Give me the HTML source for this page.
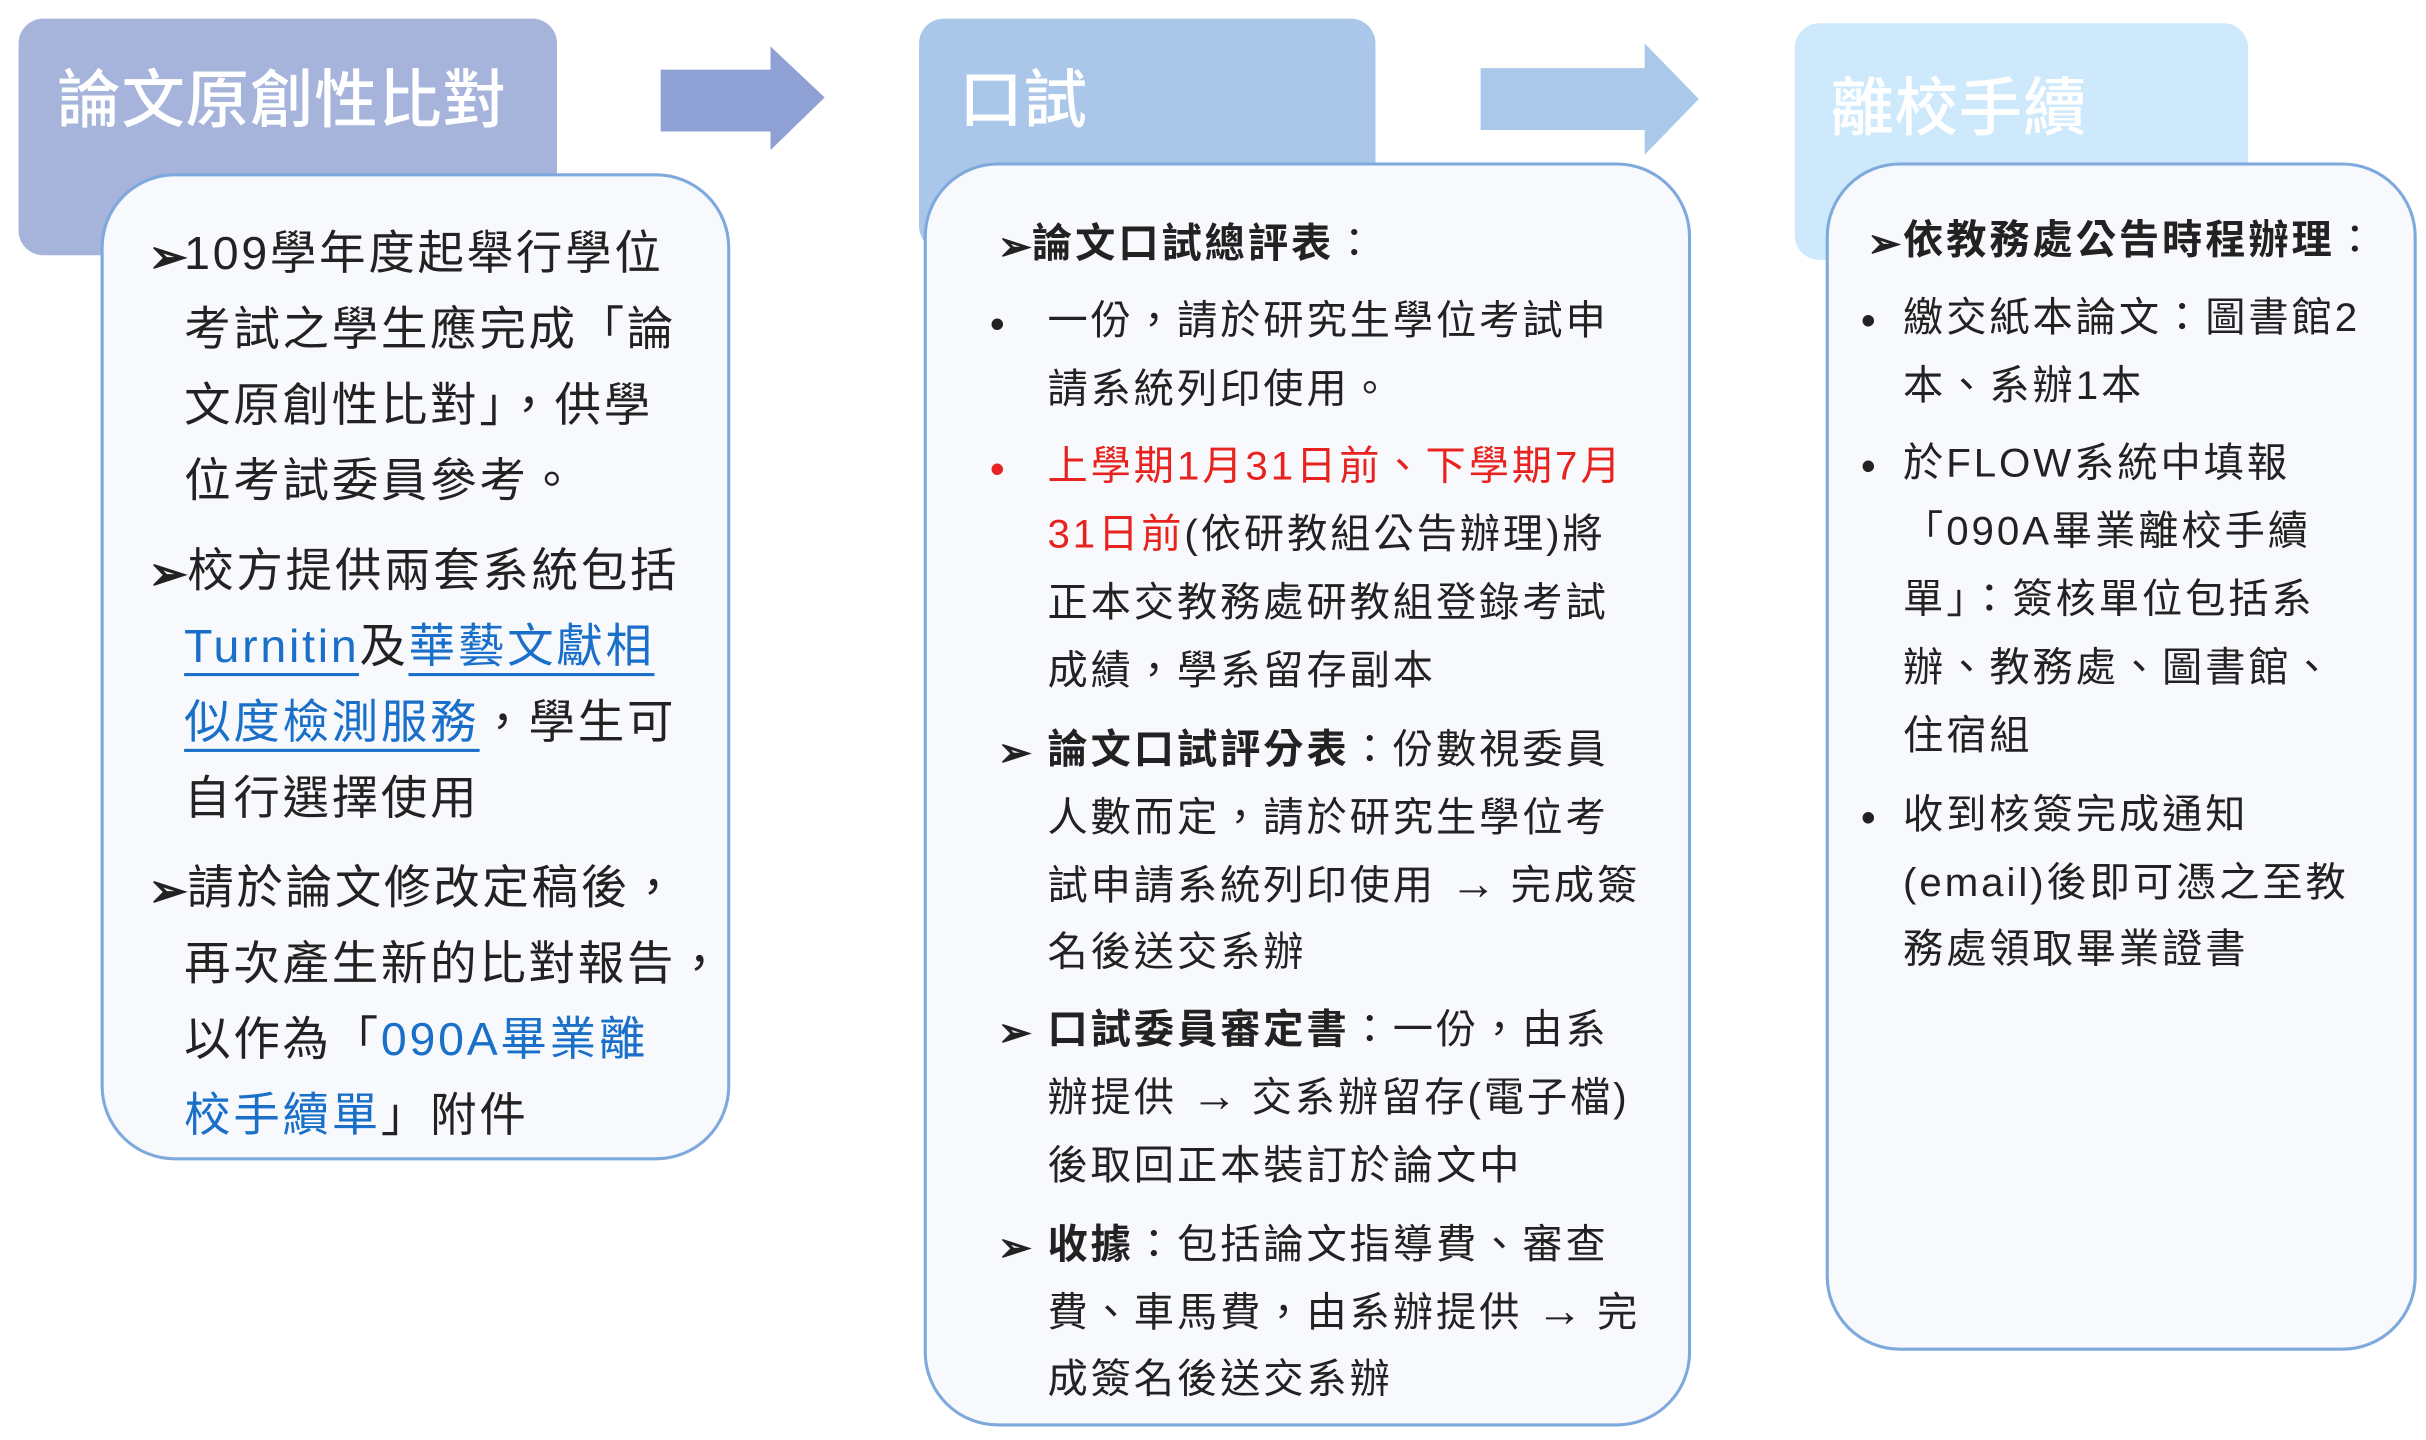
<!DOCTYPE html>
<html><head><meta charset="utf-8">
<style>
html,body{margin:0;padding:0;background:#fff;}
body{width:2426px;height:1440px;overflow:hidden;position:relative;}
#s{position:absolute;left:0;top:0;width:1568px;height:931px;transform:scale(1.5472);transform-origin:0 0;font-family:"Liberation Sans","Noto Sans CJK TC",sans-serif;color:#222;}
.hd{position:absolute;border-radius:16px;}
.ttl{position:absolute;color:#fff;font-weight:500;font-size:41px;line-height:1;white-space:nowrap;letter-spacing:0.5px;}
.bx{position:absolute;background:#f7f9fc;border:2px solid #7ea9dc;border-radius:48px;box-sizing:border-box;}
.l{position:absolute;white-space:nowrap;line-height:1;transform:translateY(-50%);}
.a{font-size:30px;letter-spacing:1.8px;}
.b{font-size:26px;letter-spacing:1.9px;}
.blue{color:#1a6fc9;}
.u{border-bottom:2px solid #1a6fc9;}
.red{color:#e8231f;}
.m{position:absolute;transform:translateY(-50%);line-height:1;font-weight:bold;}
.ar{font-weight:bold;font-size:30px;letter-spacing:0;}
</style></head><body><div id="s">

<div class="hd" style="left:12px;top:12px;width:348px;height:153px;background:#a6b4dc;"></div>
<div class="ttl" style="left:37px;top:45px;">論文原創性比對</div>
<div class="hd" style="left:594px;top:12px;width:295px;height:150px;background:#aac6e9;"></div>
<div class="ttl" style="left:620px;top:45px;">口試</div>
<div class="hd" style="left:1160px;top:15px;width:293px;height:153px;background:#cde9fb;"></div>
<div class="ttl" style="left:1183px;top:50px;">離校手續</div>

<svg style="position:absolute;left:0;top:0" width="1568" height="931">
<polygon points="427,45 498,45 498,30 533,63 498,97 498,85 427,85" fill="#8fa1d4"/>
<polygon points="957,44 1063,44 1063,28 1098,64 1063,100 1063,84 957,84" fill="#a9c8ea"/>
</svg>

<div class="bx" style="left:65px;top:112px;width:407px;height:638px;"></div>
<div class="bx" style="left:597px;top:105px;width:496px;height:817px;"></div>
<div class="bx" style="left:1180px;top:105px;width:382px;height:768px;"></div>

<div class="m a" style="left:96px;top:167px;">➢</div>
<div class="l a" style="left:119px;top:165px;">109學年度起舉行學位</div>
<div class="l a" style="left:119px;top:214px;">考試之學生應完成「論</div>
<div class="l a" style="left:119px;top:263px;">文原創性比對」，供學</div>
<div class="l a" style="left:119px;top:312px;">位考試委員參考。</div>
<div class="m a" style="left:96px;top:372px;">➢</div>
<div class="l a" style="left:121px;top:370px;">校方提供兩套系統包括</div>
<div class="l a" style="left:119px;top:419px;"><span class="blue u">Turnitin</span>及<span class="blue u">華藝文獻相</span></div>
<div class="l a" style="left:119px;top:468px;"><span class="blue u">似度檢測服務</span>，學生可</div>
<div class="l a" style="left:119px;top:517px;">自行選擇使用</div>
<div class="m a" style="left:96px;top:577px;">➢</div>
<div class="l a" style="left:121px;top:575px;">請於論文修改定稿後，</div>
<div class="l a" style="left:119px;top:624px;">再次產生新的比對報告，</div>
<div class="l a" style="left:119px;top:673px;">以作為「<span class="blue">090A畢業離</span></div>
<div class="l a" style="left:119px;top:722px;"><span class="blue">校手續單</span>」附件</div>

<div class="m b" style="left:645px;top:159px;">➢</div>
<div class="l b" style="left:667px;top:157px;"><b>論文口試總評表</b>：</div>
<div class="m b" style="left:640px;top:209px;">•</div>
<div class="l b" style="left:677px;top:207px;">一份，請於研究生學位考試申</div>
<div class="l b" style="left:677px;top:251px;">請系統列印使用。</div>
<div class="m b red" style="left:640px;top:303px;">•</div>
<div class="l b" style="left:677px;top:301px;"><span class="red">上學期1月31日前、下學期7月</span></div>
<div class="l b" style="left:677px;top:345px;"><span class="red">31日前</span>(依研教組公告辦理)將</div>
<div class="l b" style="left:677px;top:389px;">正本交教務處研教組登錄考試</div>
<div class="l b" style="left:677px;top:433px;">成績，學系留存副本</div>
<div class="m b" style="left:645px;top:486px;">➢</div>
<div class="l b" style="left:677px;top:484px;"><b>論文口試評分表</b>：份數視委員</div>
<div class="l b" style="left:677px;top:528px;">人數而定，請於研究生學位考</div>
<div class="l b" style="left:677px;top:572px;">試申請系統列印使用 <span class="ar">→</span> 完成簽</div>
<div class="l b" style="left:677px;top:615px;">名後送交系辦</div>
<div class="m b" style="left:645px;top:667px;">➢</div>
<div class="l b" style="left:677px;top:665px;"><b>口試委員審定書</b>：一份，由系</div>
<div class="l b" style="left:677px;top:709px;">辦提供 <span class="ar">→</span> 交系辦留存(電子檔)</div>
<div class="l b" style="left:677px;top:753px;">後取回正本裝訂於論文中</div>
<div class="m b" style="left:645px;top:806px;">➢</div>
<div class="l b" style="left:677px;top:804px;"><b>收據</b>：包括論文指導費、審查</div>
<div class="l b" style="left:677px;top:848px;">費、車馬費，由系辦提供 <span class="ar">→</span> 完</div>
<div class="l b" style="left:677px;top:891px;">成簽名後送交系辦</div>

<div class="m b" style="left:1207px;top:157px;">➢</div>
<div class="l b" style="left:1230px;top:155px;"><b>依教務處公告時程辦理</b>：</div>
<div class="m b" style="left:1203px;top:207px;">•</div>
<div class="l b" style="left:1230px;top:205px;">繳交紙本論文：圖書館2</div>
<div class="l b" style="left:1230px;top:249px;">本、系辦1本</div>
<div class="m b" style="left:1203px;top:301px;">•</div>
<div class="l b" style="left:1230px;top:299px;">於FLOW系統中填報</div>
<div class="l b" style="left:1230px;top:343px;">「090A畢業離校手續</div>
<div class="l b" style="left:1230px;top:387px;">單」：簽核單位包括系</div>
<div class="l b" style="left:1230px;top:431px;">辦、教務處、圖書館、</div>
<div class="l b" style="left:1230px;top:475px;">住宿組</div>
<div class="m b" style="left:1203px;top:528px;">•</div>
<div class="l b" style="left:1230px;top:526px;">收到核簽完成通知</div>
<div class="l b" style="left:1230px;top:570px;">(email)後即可憑之至教</div>
<div class="l b" style="left:1230px;top:613px;">務處領取畢業證書</div>

</div></body></html>
